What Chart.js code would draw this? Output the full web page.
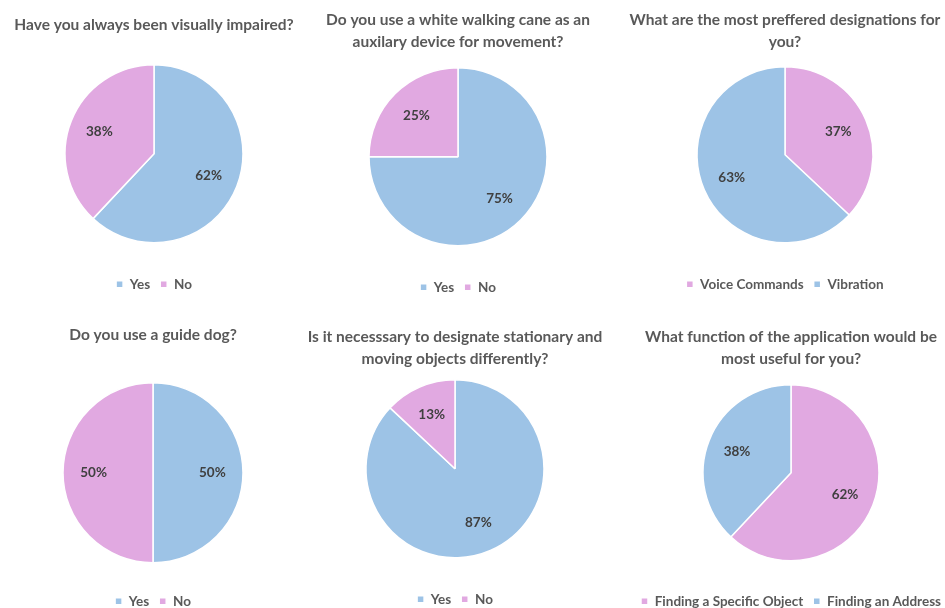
<!DOCTYPE html>
<html>
    <head>
        <title>Survey Pies</title>
        <meta charset="UTF-8">
        <script src="https://cdn.jsdelivr.net/npm/chart.js@4.4.0/dist/chart.umd.min.js"></script>
        <style>
            body { margin: 0; background: #fff; width: 945px; height: 608px; overflow: hidden; position: relative; }
            .cell { position: absolute; }
        </style>
    </head>
    <body>
        <div class="cell" id="c1"><canvas id="pie1"></canvas></div>
        <div class="cell" id="c2"><canvas id="pie2"></canvas></div>
        <div class="cell" id="c3"><canvas id="pie3"></canvas></div>
        <div class="cell" id="c4"><canvas id="pie4"></canvas></div>
        <div class="cell" id="c5"><canvas id="pie5"></canvas></div>
        <div class="cell" id="c6"><canvas id="pie6"></canvas></div>

        <script>
            // data for each question
            const BLUE = '#9dc3e6';
            const PINK = '#e1a9e1';

            const title1 = ['Have you always been visually impaired?'];
            const labels1 = ['Yes', 'No'];
            const values1 = [62, 38];

            const title2 = ['Do you use a white walking cane as an', 'auxilary device for movement?'];
            const labels2 = ['Yes', 'No'];
            const values2 = [75, 25];

            const title3 = ['What are the most preffered designations for', 'you?'];
            const labels3 = ['Voice Commands', 'Vibration'];
            const values3 = [37, 63];

            const title4 = ['Do you use a guide dog?'];
            const labels4 = ['Yes', 'No'];
            const values4 = [50, 50];

            const title5 = ['Is it necesssary to designate stationary and', 'moving objects differently?'];
            const labels5 = ['Yes', 'No'];
            const values5 = [87, 13];

            const title6 = ['What function of the application would be', 'most useful for you?'];
            const labels6 = ['Finding a Specific Object', 'Finding an Address'];
            const values6 = [62, 38];

            // percent labels inside slices
            const sliceLabels = {
                id: 'sliceLabels',
                afterDatasetsDraw(chart) {
                    const ctx = chart.ctx;
                    const meta = chart.getDatasetMeta(0);
                    const data = chart.data.datasets[0].data;
                    ctx.save();
                    ctx.font = 'bold 13.5px Lato';
                    ctx.fillStyle = '#404040';
                    ctx.textAlign = 'center';
                    ctx.textBaseline = 'middle';
                    meta.data.forEach((arc, i) => {
                        const p = arc.getProps(['x', 'y', 'startAngle', 'endAngle', 'outerRadius'], true);
                        const mid = (p.startAngle + p.endAngle) / 2;
                        const r = p.outerRadius * 0.66;
                        ctx.fillText(data[i] + '%', p.x + Math.cos(mid) * r, p.y + Math.sin(mid) * r);
                    });
                    ctx.restore();
                }
            };

            function makePie(id, cell, title, labels, values, colors, o) {
                const box = document.getElementById(cell);
                box.style.left = (o.cx - 170) + 'px';
                box.style.top = o.top + 'px';
                box.style.width = '340px';
                box.style.height = o.h + 'px';
                new Chart(document.getElementById(id), {
                    type: 'pie',
                    data: {
                        labels: labels,
                        datasets: [{
                            data: values,
                            backgroundColor: colors,
                            borderColor: '#ffffff',
                            borderWidth: 1.5
                        }]
                    },
                    options: {
                        responsive: true,
                        maintainAspectRatio: false,
                        animation: false,
                        radius: o.r,
                        plugins: {
                            title: {
                                display: true,
                                text: title,
                                color: '#595959',
                                font: { family: 'Lato', size: 15.5, weight: 'bold', lineHeight: 1.42 },
                                padding: { top: o.pt, bottom: o.pb }
                            },
                            legend: {
                                position: 'bottom',
                                labels: {
                                    color: '#595959',
                                    font: { family: 'Lato', size: 13.5, weight: 'bold' },
                                    boxWidth: 7,
                                    boxHeight: 7,
                                    padding: 10
                                }
                            },
                            tooltip: { enabled: false }
                        }
                    },
                    plugins: [sliceLabels]
                });
            }

            makePie('pie1', 'c1', title1, labels1, values1, [BLUE, PINK], { cx: 154, top: 0, h: 301, r: 89, pt: 14, pb: 4 });
            makePie('pie2', 'c2', title2, labels2, values2, [BLUE, PINK], { cx: 458, top: 0, h: 304, r: 89, pt: 9, pb: -10 });
            makePie('pie3', 'c3', title3, labels3, values3, [PINK, BLUE], { cx: 785, top: 0, h: 301, r: 88, pt: 9, pb: -11 });
            makePie('pie4', 'c4', title4, labels4, values4, [BLUE, PINK], { cx: 153, top: 310, h: 308, r: 90, pt: 14, pb: 15 });
            makePie('pie5', 'c5', title5, labels5, values5, [BLUE, PINK], { cx: 455, top: 310, h: 306, r: 89, pt: 16, pb: -15 });
            makePie('pie6', 'c6', title6, labels6, values6, [PINK, BLUE], { cx: 791, top: 310, h: 308, r: 88, pt: 16, pb: -9 });
        </script>
    </body>
</html>
